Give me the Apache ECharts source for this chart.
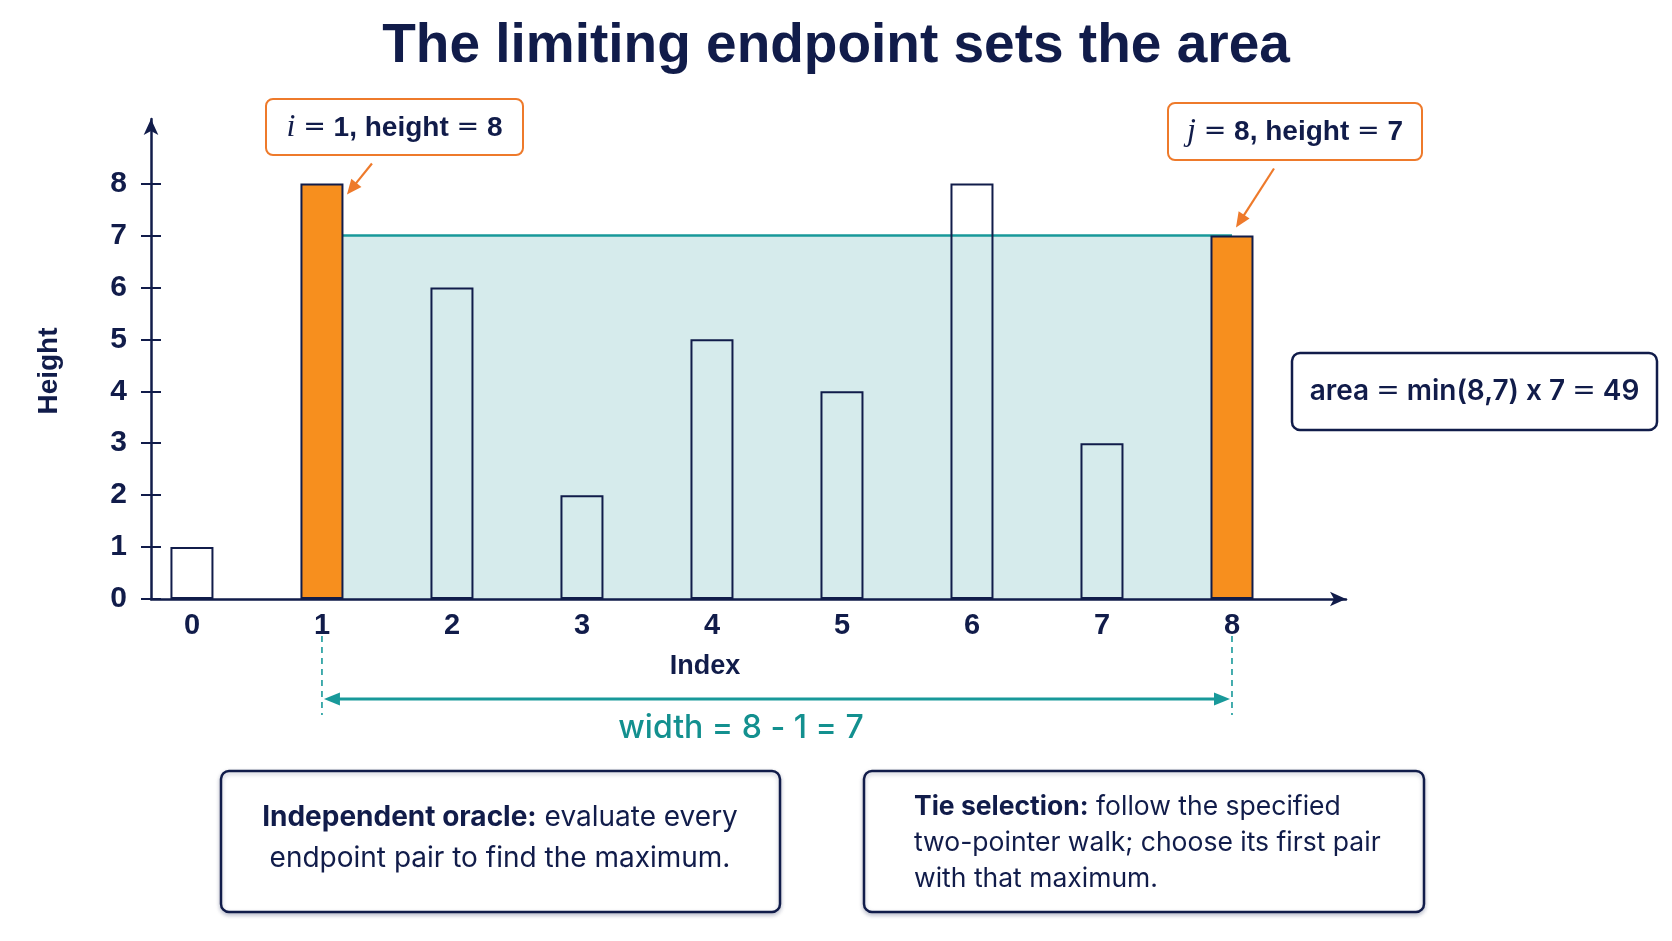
<!DOCTYPE html>
<html><head><meta charset="utf-8">
<script src="https://cdn.jsdelivr.net/npm/echarts@6/dist/echarts.min.js"></script>
<style>html,body{margin:0;padding:0;background:#fff}#c{width:1672px;height:941px}</style>
</head><body><div id="c"></div>
<script>
// ---- data ----
const indices = [0, 1, 2, 3, 4, 5, 6, 7, 8];
const heights = [1, 8, 6, 2, 5, 4, 8, 3, 7];
const yTickValues = [0, 1, 2, 3, 4, 5, 6, 7, 8];
const leftIndex = 1;
const rightIndex = 8;
const titleText = 'The limiting endpoint sets the area';
const xName = 'Index';
const yName = 'Height';
const noteOracle = '{b|Independent oracle:} evaluate every\nendpoint pair to find the maximum.';
const noteTie = '{b|Tie selection:} follow the specified\ntwo-pointer walk; choose its first pair\nwith that maximum.';

// ---- styles ----
const NAVY = '#111c4a';
const ORANGE = '#f78f1e';
const ORANGE_LINE = '#ee7a2b';
const TEAL = '#18999a';
const TEAL_TEXT = '#13908f';
const AREA = '#d6ebec';
const SANS = '"Liberation Sans", Arial, sans-serif';
const UI = 'Inter, "Liberation Sans", sans-serif';

const limitH = Math.min(heights[leftIndex], heights[rightIndex]);
const widthVal = rightIndex - leftIndex;
const areaVal = limitH * widthVal;

const chart = echarts.init(document.getElementById('c'));

const option = {
  animation: false,
  backgroundColor: '#ffffff',
  grid: { left: 151, right: 326, top: 119, bottom: 342 },
  xAxis: {
    type: 'value', min: -0.315, max: 8.877, z: 10,
    axisLine: { show: true, onZero: false, lineStyle: { color: NAVY, width: 2.5 }, symbol: ['none', 'arrow'], symbolSize: [11, 16] },
    axisTick: { show: false },
    splitLine: { show: false },
    axisLabel: { customValues: indices, margin: 12, fontSize: 29, fontWeight: 'bold', color: NAVY, fontFamily: SANS }
  },
  yAxis: [{
    type: 'value', min: 0, max: 9.243, z: 10,
    axisLine: { show: true, onZero: false, lineStyle: { color: NAVY, width: 2.5 }, symbol: ['none', 'arrow'], symbolSize: [11, 16] },
    axisTick: { show: true, customValues: yTickValues, length: 10, lineStyle: { color: NAVY, width: 2 } },
    splitLine: { show: false },
    axisLabel: { customValues: yTickValues, margin: 24, fontSize: 30, fontWeight: 'bold', color: NAVY, fontFamily: SANS }
  }, {
    type: 'value', min: 0, max: 9.243, z: 10, position: 'left',
    axisLine: { show: false, onZero: false },
    axisTick: { show: true, inside: true, customValues: yTickValues, length: 10, lineStyle: { color: NAVY, width: 2 } },
    splitLine: { show: false },
    axisLabel: { show: false }
  }],
  series: [{
    type: 'line', z: 1, silent: true, symbol: 'none',
    data: [[leftIndex, limitH], [rightIndex, limitH]],
    lineStyle: { color: TEAL, width: 2.5 },
    areaStyle: { color: AREA, opacity: 1 }
  }, {
    type: 'bar', z: 3, barWidth: 43, silent: true,
    data: indices.map((x, k) => ({
      value: [x, heights[k]],
      itemStyle: { color: (x === leftIndex || x === rightIndex) ? ORANGE : 'rgba(0,0,0,0)' }
    })),
    itemStyle: { borderColor: NAVY, borderWidth: 2 }
  }]
};
chart.setOption(option);

function px(x, y) { return chart.convertToPixel({ gridIndex: 0 }, [x, y]); }

function arrow(x1, y1, x2, y2, color, w, hl, hw, both) {
  const a = Math.atan2(y2 - y1, x2 - x1);
  const out = [];
  const head = (tx, ty, ang) => {
    const bx = tx - hl * Math.cos(ang), by = ty - hl * Math.sin(ang);
    const nx = -Math.sin(ang) * hw / 2, ny = Math.cos(ang) * hw / 2;
    return { type: 'polygon', z: 20, shape: { points: [[tx, ty], [bx + nx, by + ny], [bx - nx, by - ny]] }, style: { fill: color } };
  };
  const sx = both ? x1 + (hl - 2) * Math.cos(a) : x1, sy = both ? y1 + (hl - 2) * Math.sin(a) : y1;
  const ex = x2 - (hl - 2) * Math.cos(a), ey = y2 - (hl - 2) * Math.sin(a);
  out.push({ type: 'line', z: 20, shape: { x1: sx, y1: sy, x2: ex, y2: ey }, style: { stroke: color, lineWidth: w } });
  out.push(head(x2, y2, a));
  if (both) out.push(head(x1, y1, a + Math.PI));
  return out;
}

const pL = px(leftIndex, heights[leftIndex]);
const pR = px(rightIndex, heights[rightIndex]);
const pL0 = px(leftIndex, 0);
const pR0 = px(rightIndex, 0);

const eqStyle = { fontFamily: '"DejaVu Sans", sans-serif', fontWeight: 'normal', fontSize: 27, fill: NAVY };
const mStyle = { fontFamily: '"Liberation Serif", serif', fontStyle: 'italic', fontWeight: 'normal', fontSize: 32, fill: NAVY };

const g = [];
// title
g.push({ type: 'text', z: 20, x: 836, y: 47, style: { text: titleText, font: 'bold 55px ' + SANS, fill: NAVY, align: 'center', verticalAlign: 'middle' } });
// axis names
g.push({ type: 'text', z: 20, x: 49, y: 371, rotation: Math.PI / 2, style: { text: yName, font: 'bold 28px ' + SANS, fill: NAVY, align: 'center', verticalAlign: 'middle' } });
g.push({ type: 'text', z: 20, x: 705, y: 667, style: { text: xName, font: 'bold 27px ' + SANS, fill: NAVY, align: 'center', verticalAlign: 'middle' } });

// callout i
const bx1 = 266, by1 = 99;
g.push({ type: 'rect', z: 19, shape: { x: bx1, y: by1, width: 257, height: 56, r: 7 }, style: { fill: '#fff', stroke: ORANGE_LINE, lineWidth: 2 } });
g.push({ type: 'text', z: 20, x: bx1 + 128.5, y: by1 + 29, style: {
  text: '{m|i} {e|=} ' + leftIndex + ', height {e|=} ' + heights[leftIndex],
  font: 'bold 28px ' + SANS, fill: NAVY, align: 'center', verticalAlign: 'middle',
  rich: { m: mStyle, e: eqStyle } } });
g.push(...arrow(pL[0] + 50, pL[1] - 20, pL[0] + 25, pL[1] + 11, ORANGE_LINE, 2.2, 15, 13, false));

// callout j
const bx2 = 1168, by2 = 103;
g.push({ type: 'rect', z: 19, shape: { x: bx2, y: by2, width: 254, height: 57, r: 7 }, style: { fill: '#fff', stroke: ORANGE_LINE, lineWidth: 2 } });
g.push({ type: 'text', z: 20, x: bx2 + 127, y: by2 + 29, style: {
  text: '{m|j} {e|=} ' + rightIndex + ', height {e|=} ' + heights[rightIndex],
  font: 'bold 28px ' + SANS, fill: NAVY, align: 'center', verticalAlign: 'middle',
  rich: { m: mStyle, e: eqStyle } } });
g.push(...arrow(pR[0] + 42, pR[1] - 67, pR[0] + 4, pR[1] - 8, ORANGE_LINE, 2.2, 15, 13, false));

// area box
g.push({ type: 'rect', z: 19, shape: { x: 1292, y: 353, width: 365, height: 77, r: 8 }, style: { fill: '#fff', stroke: NAVY, lineWidth: 2.5 } });
g.push({ type: 'text', z: 20, x: 1474.5, y: 392, style: {
  text: 'area {e|=} min(' + heights[leftIndex] + ',' + heights[rightIndex] + ') x ' + widthVal + ' {e|=} ' + areaVal,
  font: '600 28px ' + UI, fill: NAVY, align: 'center', verticalAlign: 'middle',
  rich: { e: { fontFamily: '"DejaVu Sans", sans-serif', fontWeight: 'normal', fontSize: 28, fill: NAVY } } } });

// width dimension
[pL0[0], pR0[0]].forEach(x => {
  g.push({ type: 'line', z: 20, shape: { x1: x, y1: 636, x2: x, y2: 715 }, style: { stroke: TEAL, lineWidth: 1.6, lineDash: [6, 5] } });
});
g.push(...arrow(pL0[0] + 2, 699, pR0[0] - 2, 699, TEAL, 3, 16, 13, true));
g.push({ type: 'text', z: 20, x: 741, y: 728, style: {
  text: 'width = ' + rightIndex + ' - ' + leftIndex + ' = ' + widthVal,
  font: '500 32px ' + UI, fill: TEAL_TEXT, align: 'center', verticalAlign: 'middle' } });

// bottom notes
const shadow = { shadowBlur: 4, shadowOffsetY: 2, shadowColor: 'rgba(17,28,74,0.25)' };
g.push({ type: 'rect', z: 19, shape: { x: 221, y: 771, width: 559, height: 141, r: 8 }, style: Object.assign({ fill: '#fff', stroke: NAVY, lineWidth: 2.5 }, shadow) });
g.push({ type: 'text', z: 20, x: 500, y: 838, style: {
  text: noteOracle, font: '28px ' + UI, fill: NAVY, align: 'center', verticalAlign: 'middle', lineHeight: 41,
  rich: { b: { fontWeight: 'bold', fontSize: 28, fontFamily: UI, fill: NAVY, lineHeight: 41 } } } });
g.push({ type: 'rect', z: 19, shape: { x: 864, y: 771, width: 560, height: 141, r: 8 }, style: Object.assign({ fill: '#fff', stroke: NAVY, lineWidth: 2.5 }, shadow) });
g.push({ type: 'text', z: 20, x: 914, y: 843, style: {
  text: noteTie, font: '26.5px ' + UI, fill: NAVY, align: 'left', verticalAlign: 'middle', lineHeight: 36,
  rich: { b: { fontWeight: 'bold', fontSize: 26.5, fontFamily: UI, fill: NAVY, lineHeight: 36 } } } });

chart.setOption({ graphic: { elements: g } });
</script>
</body></html>
